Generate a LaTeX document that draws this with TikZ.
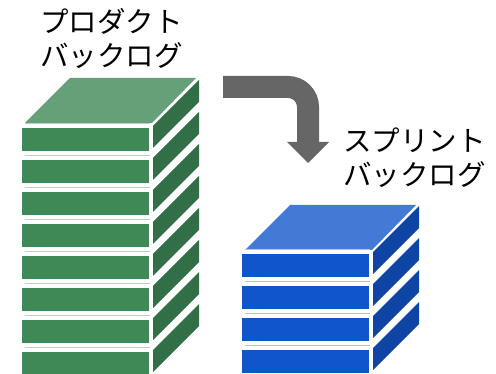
\documentclass[tikz,border=0pt]{standalone}
\usepackage{xcolor}
\usepackage{tikz}
\usepackage{fontspec}
\newfontfamily\jpfont{Noto Sans CJK JP}
\usetikzlibrary{positioning}

\definecolor{pbfront}{HTML}{3E8956}
\definecolor{pbtop}{HTML}{66A078}
\definecolor{pbside}{HTML}{326E46}
\definecolor{pbline}{HTML}{B8D4C0}
\definecolor{sbfront}{HTML}{1155CC}
\definecolor{sbtop}{HTML}{4479D6}
\definecolor{sbside}{HTML}{0E45A4}
\definecolor{sbline}{HTML}{AEC4EE}
\definecolor{arrowgray}{HTML}{666666}

\tikzset{
    stacklabel/.style={font=\jpfont\fontsize{28.5}{34}\selectfont, align=left, inner sep=0pt, anchor=base west},
}

% one slab of a stack: x of front left, y of front top, colours
\newcommand{\slab}[5]{
    \draw[#5, line width=1pt] (#1+3,#2-4) -- (#1+128,#2-4);
    \fill[#3] (#1,#2) rectangle (#1+127,#2+23);
    \fill[#4] (#1+131,#2-2) -- (#1+177,#2-48) -- (#1+177,#2-26) -- (#1+131,#2+20) -- cycle;
}

\begin{document}
\begin{tikzpicture}[x=1pt,y=-1pt]
    \useasboundingbox (0,0) rectangle (496,374);

    % Product backlog
    \fill[pbtop] (25,123) -- (70,78) -- (196,78) -- (152,123) -- cycle;
    \foreach \i in {0,...,7} {
        \slab{22}{128+32*\i}{pbfront}{pbside}{pbline}
    }
    \node[stacklabel] (pblabel) at (40,67) {プロダクト\\バックログ};

    % Sprint backlog
    \fill[sbtop] (245,250) -- (290,205) -- (416,205) -- (372,250) -- cycle;
    \foreach \i in {0,...,3} {
        \slab{242}{254+32*\i}{sbfront}{sbside}{sbline}
    }
    \node[stacklabel] (sblabel) at (343,186) {スプリント\\バックログ};

    % Bent arrow between the stacks
    \draw[arrowgray, line width=22pt, rounded corners=20pt] (223,87) -- (308,87) -- (308,143);
    \fill[arrowgray] (287,142) -- (329,142) -- (308,163) -- cycle;
\end{tikzpicture}
\end{document}
